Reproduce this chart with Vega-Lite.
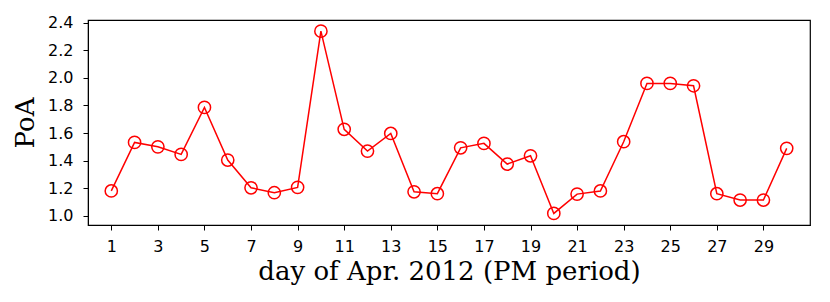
{
  "$schema": "https://vega.github.io/schema/vega-lite/v6.json",
  "width": 722,
  "height": 205,
  "autosize": {"type": "none"},
  "padding": {"left": 88, "top": 20, "right": 20, "bottom": 77},
  "background": "white",
  "config": {
    "view": {"stroke": "black", "strokeWidth": 1.2},
    "axis": {
      "grid": false,
      "domainColor": "black",
      "tickColor": "black",
      "tickSize": 5,
      "tickWidth": 1,
      "labelFont": "DejaVu Sans",
      "labelFontSize": 16,
      "labelColor": "black",
      "titleFont": "DejaVu Serif",
      "titleFontSize": 26,
      "titleFontWeight": "normal",
      "titleColor": "black"
    }
  },
  "data": {
    "values": [
      {"day": 1, "poa": 1.18},
      {"day": 2, "poa": 1.532},
      {"day": 3, "poa": 1.50},
      {"day": 4, "poa": 1.445},
      {"day": 5, "poa": 1.786},
      {"day": 6, "poa": 1.404},
      {"day": 7, "poa": 1.203},
      {"day": 8, "poa": 1.167},
      {"day": 9, "poa": 1.206},
      {"day": 10, "poa": 2.339},
      {"day": 11, "poa": 1.627},
      {"day": 12, "poa": 1.469},
      {"day": 13, "poa": 1.597},
      {"day": 14, "poa": 1.174},
      {"day": 15, "poa": 1.16},
      {"day": 16, "poa": 1.493},
      {"day": 17, "poa": 1.525},
      {"day": 18, "poa": 1.375},
      {"day": 19, "poa": 1.435},
      {"day": 20, "poa": 1.017},
      {"day": 21, "poa": 1.157},
      {"day": 22, "poa": 1.18},
      {"day": 23, "poa": 1.537},
      {"day": 24, "poa": 1.96},
      {"day": 25, "poa": 1.96},
      {"day": 26, "poa": 1.943},
      {"day": 27, "poa": 1.16},
      {"day": 28, "poa": 1.114},
      {"day": 29, "poa": 1.114},
      {"day": 30, "poa": 1.489}
    ]
  },
  "encoding": {
    "x": {
      "field": "day",
      "type": "quantitative",
      "scale": {"domain": [0, 31], "nice": false, "zero": false},
      "axis": {
        "values": [1, 3, 5, 7, 9, 11, 13, 15, 17, 19, 21, 23, 25, 27, 29],
        "title": "day of Apr. 2012 (PM period)",
        "labelPadding": 8,
        "titlePadding": 4
      }
    },
    "y": {
      "field": "poa",
      "type": "quantitative",
      "scale": {"domain": [0.933, 2.42], "nice": false, "zero": false},
      "axis": {
        "values": [1.0, 1.2, 1.4, 1.6, 1.8, 2.0, 2.2, 2.4],
        "format": ".1f",
        "title": "PoA",
        "labelPadding": 10,
        "titlePadding": 9
      }
    }
  },
  "layer": [
    {"mark": {"type": "line", "color": "#ff0000", "strokeWidth": 1.5}},
    {"mark": {"type": "point", "shape": "circle", "filled": false, "color": "#ff0000", "size": 150, "strokeWidth": 1.5, "opacity": 1}}
  ]
}
